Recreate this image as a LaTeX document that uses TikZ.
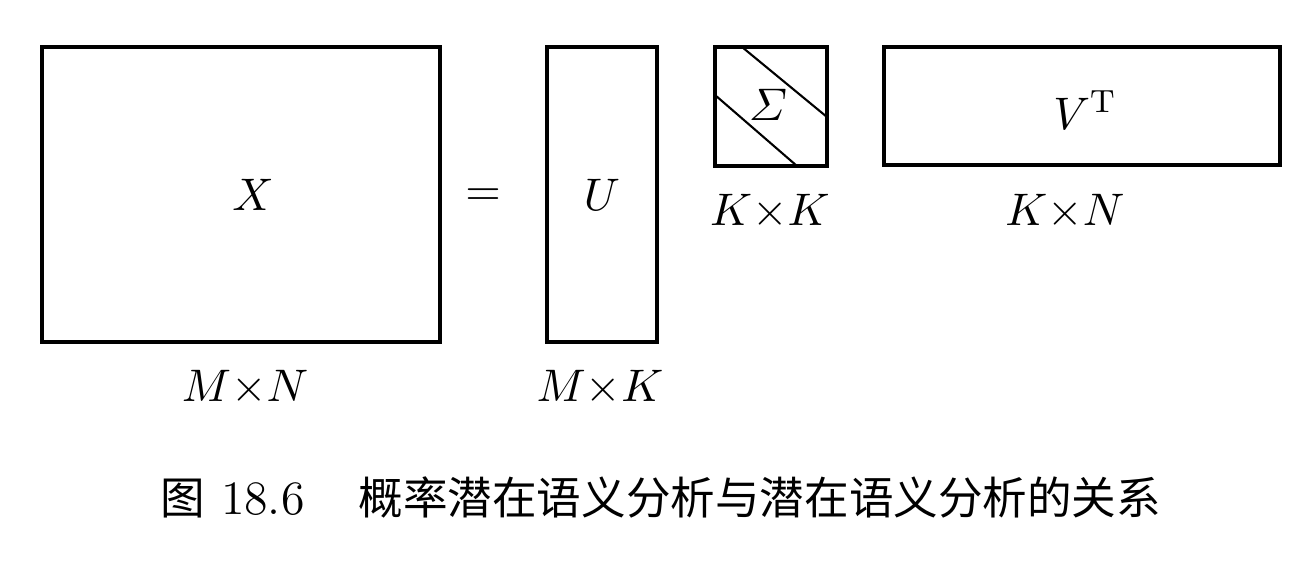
\documentclass[tikz,border=0pt]{standalone}
\usepackage{amsmath}
\usepackage{fontspec}
\newfontfamily\cjk{Noto Sans CJK SC}
\usepackage{tikz}

\begin{document}
\begin{tikzpicture}[x=0.24pt,y=-0.24pt]
\tikzstyle{matbox}=[black, line width=1pt]
\tikzstyle{diag}=[black, line width=0.5pt]
\tikzstyle{lab}=[font=\fontsize{11}{13}\selectfont, inner sep=0pt]
\useasboundingbox (0,0) rectangle (1306,562);
% matrix X
\draw[matbox] (42,47) rectangle (440,342);
\node[lab] (X) at (253,195) {$X$};
\node[lab] (dimX) at (245,388) {$M{\times}N$};
\node[lab] (eq) at (483,197) {$=$};
% matrix U
\draw[matbox] (547,47) rectangle (657,342);
\node[lab] (U) at (602,195) {$U$};
\node[lab] (dimU) at (600,388) {$M{\times}K$};
% matrix Sigma
\draw[matbox] (715,47) rectangle (827,166);
\draw[diag] (742,47) -- (827,117);
\draw[diag] (715,95) -- (797,166);
\node[lab] (S) at (768,105) {$\varSigma$};
\node[lab] (dimS) at (770,212) {$K{\times}K$};
% matrix V^T
\draw[matbox] (884,47) rectangle (1280,165);
\node[lab] (V) at (1085,110) {$V^{\mathrm{T}}$};
\node[lab] (dimV) at (1065,212) {$K{\times}N$};
% caption
\node[lab, font=\fontsize{11.5}{14}\selectfont, anchor=west] (cap) at (160,497) {{\cjk\fontsize{10.7}{14}\selectfont 图} 18.6\hspace{13pt}{\cjk\fontsize{10.7}{14}\selectfont 概率潜在语义分析与潜在语义分析的关系}};
\end{tikzpicture}
\end{document}
